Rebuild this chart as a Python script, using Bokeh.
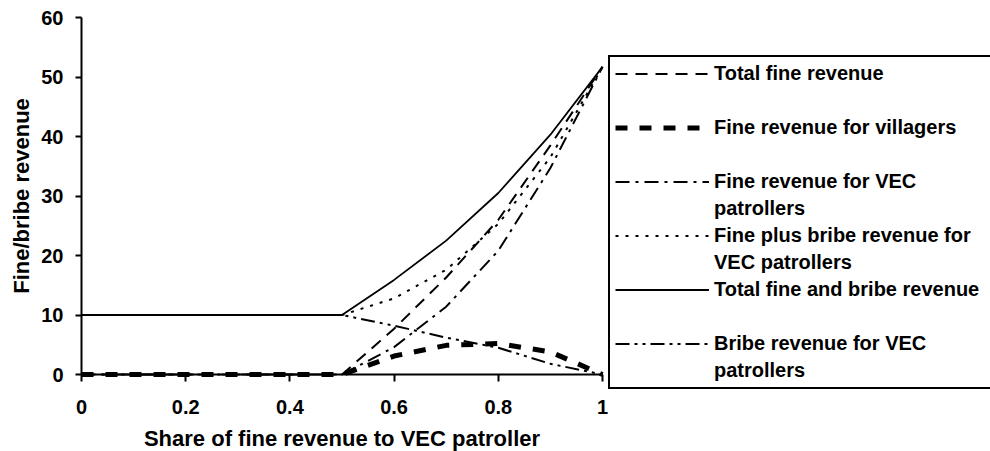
from bokeh.plotting import figure
from bokeh.models import (Range1d, FixedTicker, Legend, LegendItem, CustomJSTickFormatter,
                          LinearAxis)
from bokeh.embed import file_html
from bokeh.resources import INLINE

# ---- data ----
share = [0.0, 0.1, 0.2, 0.3, 0.4, 0.5, 0.6, 0.7, 0.8, 0.9, 1.0]
total_fine = [0, 0, 0, 0, 0, 0, 7.7, 16.3, 26.0, 38.5, 51.7]
fine_villagers = [0, 0, 0, 0, 0, 0, 3.1, 4.9, 5.2, 3.8, 0.0]
fine_vec = [0, 0, 0, 0, 0, 0, 4.6, 11.4, 20.8, 34.7, 51.7]
fine_bribe_vec = [10, 10, 10, 10, 10, 10, 12.8, 17.6, 25.3, 36.5, 51.7]
total_fine_bribe = [10, 10, 10, 10, 10, 10, 15.9, 22.5, 30.5, 40.3, 51.7]
bribe_vec = [10, 10, 10, 10, 10, 10, 8.2, 6.2, 4.5, 1.8, 0.0]

x_ticks = [0, 0.2, 0.4, 0.6, 0.8, 1.0]
x_tick_labels = ["0", "0.2", "0.4", "0.6", "0.8", "1"]
y_ticks = [0, 10, 20, 30, 40, 50, 60]

series = [
    ("Total fine revenue", None, total_fine, dict(line_width=2, line_dash="12 8")),
    ("Fine revenue for villagers", None, fine_villagers, dict(line_width=5, line_dash="12 12")),
    ("Fine revenue for VEC", "patrollers", fine_vec, dict(line_width=2, line_dash="14 6 3 6")),
    ("Fine plus bribe revenue for", "VEC patrollers", fine_bribe_vec, dict(line_width=2, line_dash="3 7")),
    ("Total fine and bribe revenue", None, total_fine_bribe, dict(line_width=1.8)),
    ("Bribe revenue for VEC", "patrollers", bribe_vec, dict(line_width=2, line_dash="14 5 3 5 3 5")),
]

FONT = "Liberation Sans"

# ---- layout (pixels): the frame covers the whole canvas, axes sit at data 0 ----
W, H = 990, 451
LEFT, TOP = 81, 17                  # where data (0, 60) lands
PLOT_W, PLOT_H = 521, 357          # size of the 0..1 x 0..60 data area
x_start = -LEFT / PLOT_W
x_end = (W - LEFT) / PLOT_W
y_end = 60 + 60 * TOP / PLOT_H
y_start = -60 * (H - TOP - PLOT_H) / PLOT_H

p = figure(width=W, height=H, x_range=Range1d(x_start, x_end), y_range=Range1d(y_start, y_end),
           output_backend="svg", toolbar_location=None,
           x_axis_location=None, y_axis_location=None,
           min_border_left=0, min_border_right=0, min_border_top=0, min_border_bottom=0)
p.outline_line_color = None
p.grid.visible = False
p.background_fill_color = "white"
p.border_fill_color = "white"

blank = p.line(share, total_fine_bribe, line_alpha=0)
items = []
for name, name2, ys, style in series:
    r = p.line(share, ys, line_color="black", **style)
    items.append(LegendItem(label=name, renderers=[r]))
    items.append(LegendItem(label=name2 if name2 else " ", renderers=[blank]))

xa = LinearAxis(fixed_location=0, bounds=(0, 1))
ya = LinearAxis(fixed_location=0, bounds=(0, 60))
p.add_layout(xa, "below")
p.add_layout(ya, "left")

for ax in (xa, ya):
    ax.axis_line_width = 2
    ax.axis_line_color = "black"
    ax.major_tick_line_width = 2
    ax.major_tick_line_color = "black"
    ax.major_tick_in = 0
    ax.minor_tick_line_color = None
    ax.major_label_text_font = FONT
    ax.major_label_text_font_style = "bold"
    ax.major_label_text_font_size = "20px"
    ax.major_label_text_color = "black"
    ax.axis_label_text_font = FONT
    ax.axis_label_text_font_style = "bold"
    ax.axis_label_text_font_size = "22px"
    ax.axis_label_text_color = "black"

xa.ticker = FixedTicker(ticks=x_ticks)
xa.formatter = CustomJSTickFormatter(
    args=dict(tvals=x_ticks, tlabels=x_tick_labels),
    code="const i = tvals.indexOf(tick); return i >= 0 ? tlabels[i] : '';")
xa.major_tick_out = 7
xa.major_label_standoff = 18
xa.axis_label_standoff = 9
xa.axis_label = "Share of fine revenue to VEC patroller"

ya.ticker = FixedTicker(ticks=y_ticks)
ya.major_tick_out = 6
ya.major_label_standoff = 12
ya.axis_label_standoff = 4
ya.axis_label = "Fine/bribe revenue"

legend = Legend(items=items, location=(608, 62), margin=0, padding=5, spacing=4,
                glyph_width=94, glyph_height=23, label_height=23, label_width=290,
                label_standoff=5,
                label_text_font=FONT, label_text_font_style="bold",
                label_text_font_size="20px", label_text_color="black",
                border_line_color="black", border_line_width=2, border_line_alpha=1,
                background_fill_color="white", background_fill_alpha=1)
p.add_layout(legend, "center")

open("out.html", "w").write(file_html(p, INLINE))
